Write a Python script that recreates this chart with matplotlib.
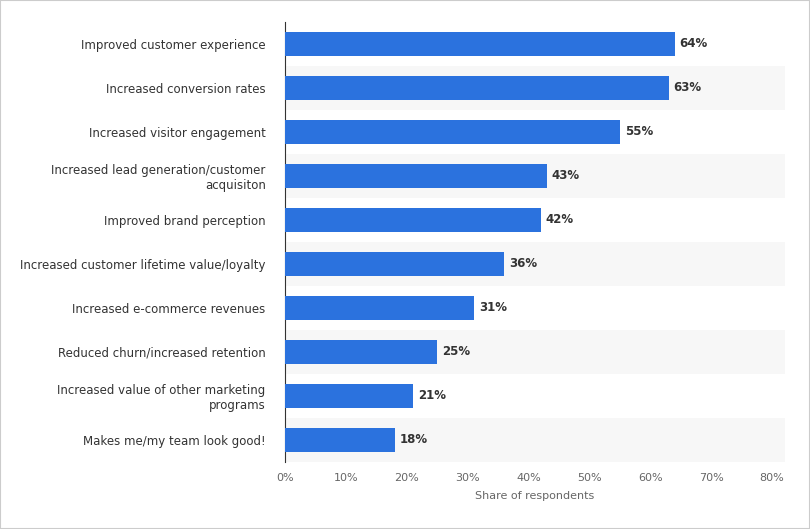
import matplotlib
matplotlib.use("Agg")
import matplotlib.pyplot as plt

categories = ["Improved customer experience", "Increased conversion rates", "Increased visitor engagement",
              "Increased lead generation/customer\nacquisiton", "Improved brand perception",
              "Increased customer lifetime value/loyalty", "Increased e-commerce revenues",
              "Reduced churn/increased retention", "Increased value of other marketing\nprograms",
              "Makes me/my team look good!"]
values = [64, 63, 55, 43, 42, 36, 31, 25, 21, 18]
xticks = [0, 10, 20, 30, 40, 50, 60, 70, 80]

fig = plt.figure(figsize=(8.1, 5.29), dpi=100)
ax = fig.add_axes([0.352, 0.127, 0.617, 0.832])
n = len(values)
ys = list(range(n))
for i in ys:
    if i % 2 == 1:
        ax.axhspan(i - 0.5, i + 0.5, color="#f7f7f7", zorder=0, lw=0)
ax.barh(ys, values, height=0.55, color="#2b72de", zorder=3)
for y, v in zip(ys, values):
    ax.text(v + 0.8, y, f"{v}%", va="center", ha="left", fontsize=8.5, fontweight="bold", color="#333333")
ax.set_ylim(n - 0.5, -0.5)
ax.set_xlim(0, 82.1)
ax.set_yticks(ys)
ax.set_yticklabels(categories, fontsize=8.5, color="#333333")
ax.set_xticks(xticks)
ax.set_xticklabels([f"{t}%" for t in xticks], fontsize=8, color="#666666")
ax.tick_params(length=0, pad=8)
ax.tick_params(axis="y", pad=14)
for s in ["top", "right", "bottom"]:
    ax.spines[s].set_visible(False)
ax.spines["left"].set_color("#333333")
ax.set_xlabel("Share of respondents", fontsize=8, color="#666666", labelpad=6)
fig.patches.append(plt.Rectangle((0, 0), 1, 1, transform=fig.transFigure, fill=False, ec="#cccccc", lw=1.5))
fig.savefig("out.png", dpi=100)
